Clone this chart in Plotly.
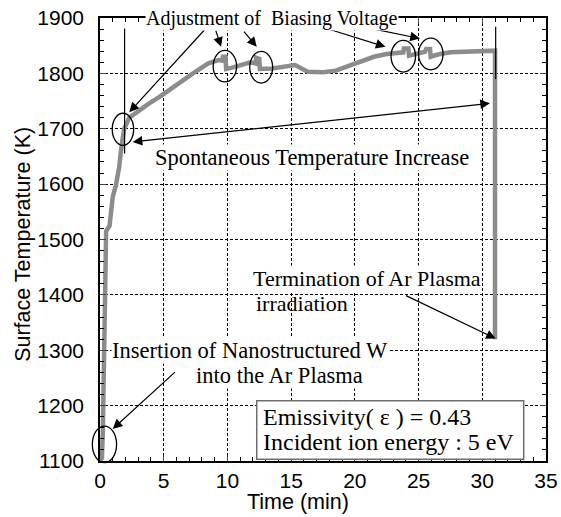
import plotly.graph_objects as go

# Time (min) and surface temperature (K)
time_min = [0.0, 0.15, 0.22, 0.28, 0.33, 0.38, 0.43, 0.48, 0.75, 0.85, 1.0, 1.25, 1.5, 1.7, 1.9,
            2.3, 2.85, 3.8, 4.7, 6.0, 7.3, 8.5, 9.3, 9.6, 9.65, 9.85, 9.9, 10.3, 11.0, 11.8,
            12.2, 12.25, 12.5, 12.55, 13.5, 14.5, 15.3, 16.3, 17.5, 18.5, 19.5, 20.5, 21.5,
            22.5, 23.5, 23.8, 23.85, 24.2, 24.25, 24.8, 25.5, 25.6, 25.9, 25.95, 26.5, 27.5,
            29.0, 30.5, 31.0, 31.0]
temp_K = [1100, 1105, 1150, 1250, 1330, 1400, 1460, 1515, 1525, 1550, 1577, 1598, 1630, 1670, 1700,
          1720, 1730, 1745, 1758, 1780, 1800, 1818, 1824, 1823, 1830, 1830, 1808, 1810, 1815, 1820,
          1818, 1828, 1826, 1808, 1809, 1812, 1815, 1803, 1802, 1805, 1813, 1822, 1830,
          1835, 1838, 1838, 1845, 1845, 1832, 1836, 1839, 1844, 1844, 1830, 1834, 1838,
          1840, 1841, 1841, 1320]

x_ticks = [0, 5, 10, 15, 20, 25, 30, 35]
y_ticks = [1100, 1200, 1300, 1400, 1500, 1600, 1700, 1800, 1900]
X_RANGE = [0, 35]
Y_RANGE = [1100, 1900]

# circled regions (centre time, centre temp, half width min, half height K)
circles = [(0.35, 1130, 0.95, 33), (1.8, 1699, 0.84, 29), (9.8, 1813, 0.92, 28.5),
           (12.65, 1811, 0.9, 28.6), (23.8, 1831, 0.96, 28.6), (25.96, 1835, 0.96, 28.6)]

serif = "Liberation Serif, Times New Roman, serif"
sans = "Liberation Sans, Arial, sans-serif"

fig = go.Figure()
fig.add_trace(go.Scatter(x=time_min, y=temp_K, mode="lines",
                         line=dict(color="#8c8c8c", width=4.5), showlegend=False))

# thin vertical marker lines
fig.add_trace(go.Scatter(x=[1.93, 1.93], y=[1881, 1655], mode="lines",
                         line=dict(color="black", width=1.2), showlegend=False))
fig.add_trace(go.Scatter(x=[31.05, 31.05], y=[1884, 1790], mode="lines",
                         line=dict(color="black", width=1.2), showlegend=False))

def px_(t):
    return (t - X_RANGE[0]) / (X_RANGE[1] - X_RANGE[0])

def py_(T):
    return (T - Y_RANGE[0]) / (Y_RANGE[1] - Y_RANGE[0])

# ellipses drawn in paper units so that they are not clipped at the axes
for cx, cy, rx, ry in circles:
    fig.add_shape(type="circle", xref="paper", yref="paper", x0=px_(cx - rx), x1=px_(cx + rx),
                  y0=py_(cy - ry), y1=py_(cy + ry), line=dict(color="black", width=1.3))

# condition box
fig.add_shape(type="rect", xref="x", yref="y", x0=12.3, x1=33.25, y0=1103, y1=1209,
              line=dict(color="#6e6e6e", width=1.5), fillcolor="white", layer="above")

ann = []
def arrow(x, y, ax, ay, side="end"):
    ann.append(dict(x=x, y=y, ax=ax, ay=ay, xref="x", yref="y", axref="x", ayref="y",
                    text="", showarrow=True, arrowhead=2, arrowsize=1.6, arrowwidth=1.2,
                    arrowcolor="black", arrowside=side, standoff=0, startstandoff=0))

arrow(2.3, 1730, 8.3, 1881)
arrow(9.5, 1848, 9.05, 1880)
arrow(12.3, 1848, 11.2, 1878)
arrow(22.4, 1848, 17.8, 1881)
arrow(25.1, 1863, 21.3, 1881)
arrow(30.6, 1746, 2.45, 1676, side="end+start")
arrow(31.05, 1321, 23.9, 1400)
arrow(1.0, 1158, 6.0, 1263)

def text(x, y, s, size, xanchor="center", bg="white"):
    ann.append(dict(x=x, y=y, xref="x", yref="y", text=s, showarrow=False,
                    font=dict(family=serif, size=size, color="black"),
                    xanchor=xanchor, yanchor="middle", bgcolor=bg, borderpad=0))

ann.append(dict(x=13.5, y=1.0, xref="x", yref="paper", text="Adjustment of  Biasing Voltage",
                showarrow=False, font=dict(family=serif, size=20, color="black"),
                xanchor="center", yanchor="middle", bgcolor="white", borderpad=0))
text(16.6, 1648, "Spontaneous Temperature Increase", 22.5)
text(11.9, 1430, "Termination of Ar Plasma", 22, xanchor="left")
text(12.15, 1385, "irradiation", 22, xanchor="left", bg="rgba(0,0,0,0)")
text(11.76, 1300, "Insertion of Nanostructured W", 22.5)
text(14.1, 1254, "into the Ar Plasma", 22.5)
text(12.7, 1179, "Emissivity( ε ) = 0.43", 24, xanchor="left", bg="rgba(0,0,0,0)")
text(12.7, 1134, "Incident ion energy : 5 eV", 24, xanchor="left", bg="rgba(0,0,0,0)")

ann.append(dict(x=0.444, y=-0.092, xref="paper", yref="paper", text="Time (min)",
                showarrow=False, font=dict(family=sans, size=21.5, color="black"),
                xanchor="center", yanchor="middle"))
ann.append(dict(x=-0.1726, y=0.488, xref="paper", yref="paper", text="Surface Temperature (K)",
                textangle=-90, showarrow=False, font=dict(family=sans, size=21.5, color="black"),
                xanchor="center", yanchor="middle"))

fig.update_layout(
    width=561, height=517, margin=dict(l=100, r=15, t=18, b=56),
    paper_bgcolor="white", plot_bgcolor="white", annotations=ann,
    xaxis=dict(range=X_RANGE, tickvals=x_ticks, ticks="inside", ticklen=6, tickwidth=1,
               mirror="allticks", showline=True, linecolor="black", linewidth=1.5,
               showgrid=True, gridcolor="black", gridwidth=1, griddash="3px,2px",
               zeroline=False, automargin=False, ticklabelstandoff=0, ticklabeloverflow="allow",
               tickfont=dict(family=sans, size=21, color="black"),
               minor=dict(dtick=1, ticks="inside", ticklen=4, tickcolor="black", showgrid=False)),
    yaxis=dict(range=Y_RANGE, tickvals=y_ticks, ticks="inside", ticklen=6, tickwidth=1,
               mirror="allticks", showline=True, linecolor="black", linewidth=1.5,
               showgrid=True, gridcolor="black", gridwidth=1, griddash="3px,2px",
               zeroline=False, automargin=False, ticklabelstandoff=10, ticklabeloverflow="allow",
               tickfont=dict(family=sans, size=21, color="black"),
               minor=dict(dtick=20, ticks="inside", ticklen=4, tickcolor="black", showgrid=False)),
)

fig.write_html("out.html", config={"displayModeBar": False},
               post_script="document.body.style.margin='0';document.body.style.overflow='hidden';")
